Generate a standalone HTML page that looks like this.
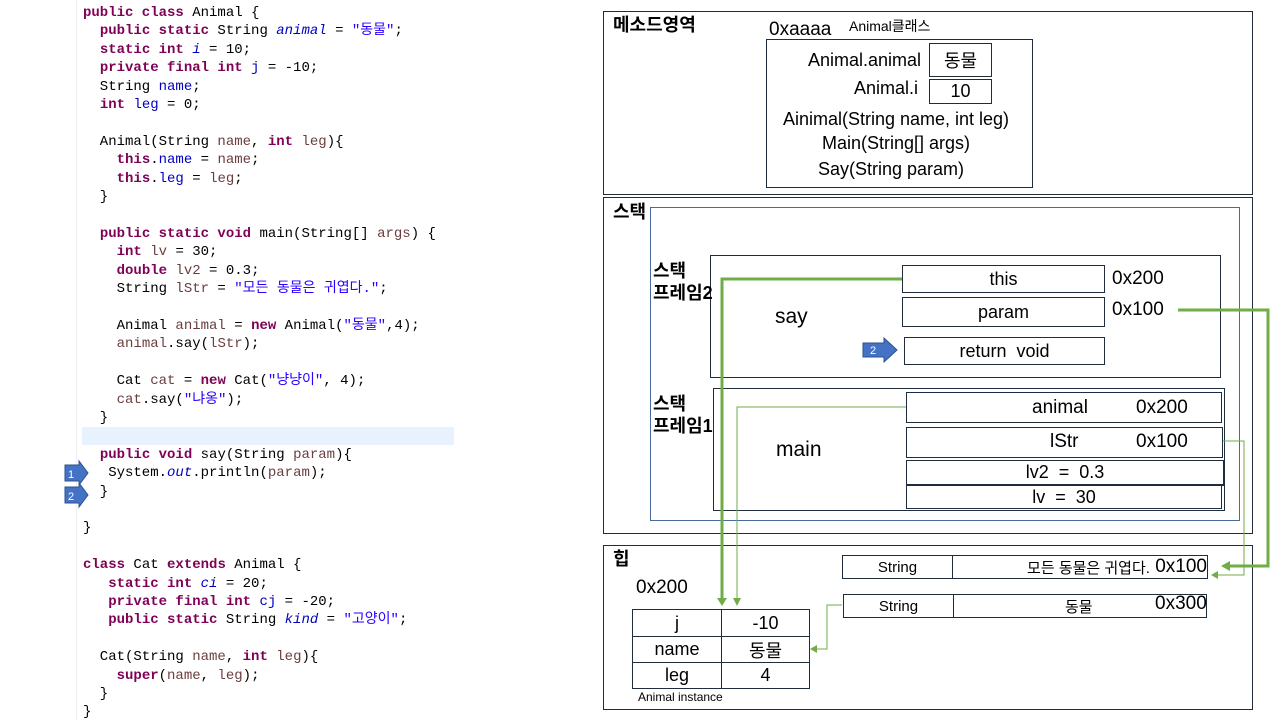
<!DOCTYPE html>
<html><head><meta charset="utf-8"><style>
body{margin:0;width:1280px;height:720px;background:#fff;position:relative;overflow:hidden;font-family:"Liberation Sans","Noto Sans CJK KR",sans-serif;}
.c{position:absolute;font-family:"Liberation Mono","Noto Sans CJK KR",monospace;font-size:14px;white-space:pre;line-height:18.4px;color:#000;}
.k{color:#7f0055;font-weight:bold}.f{color:#0000c0}.s{color:#2a00ff}.l{color:#6a3e3e}.i{font-style:italic}
.a{position:absolute;white-space:nowrap;}
.bx{position:absolute;border:1px solid #1f2d3d;box-sizing:border-box;display:flex;align-items:center;justify-content:center;font-size:18px;}
.t{position:absolute;font-size:18px;font-weight:bold;line-height:22px;}
</style></head><body>
<div style="position:absolute;left:76px;top:0;width:1px;height:720px;background:#eee"></div>
<div style="position:absolute;left:82px;top:427px;width:372px;height:18px;background:#e8f2fe"></div>
<div class="c" style="left:83px;top:4px"><span class="k">public class</span> Animal {
  <span class="k">public static</span> String <span class="f i">animal</span> = <span class="s">"동물"</span>;
  <span class="k">static int</span> <span class="f i">i</span> = 10;
  <span class="k">private final int</span> <span class="f">j</span> = -10;
  String <span class="f">name</span>;
  <span class="k">int</span> <span class="f">leg</span> = 0;

  Animal(String <span class="l">name</span>, <span class="k">int</span> <span class="l">leg</span>){
    <span class="k">this</span>.<span class="f">name</span> = <span class="l">name</span>;
    <span class="k">this</span>.<span class="f">leg</span> = <span class="l">leg</span>;
  }

  <span class="k">public static void</span> main(String[] <span class="l">args</span>) {
    <span class="k">int</span> <span class="l">lv</span> = 30;
    <span class="k">double</span> <span class="l">lv2</span> = 0.3;
    String <span class="l">lStr</span> = <span class="s">"모든 동물은 귀엽다."</span>;

    Animal <span class="l">animal</span> = <span class="k">new</span> Animal(<span class="s">"동물"</span>,4);
    <span class="l">animal</span>.say(<span class="l">lStr</span>);

    Cat <span class="l">cat</span> = <span class="k">new</span> Cat(<span class="s">"냥냥이"</span>, 4);
    <span class="l">cat</span>.say(<span class="s">"냐옹"</span>);
  }

  <span class="k">public void</span> say(String <span class="l">param</span>){
   System.<span class="f i">out</span>.println(<span class="l">param</span>);
  }

}

<span class="k">class</span> Cat <span class="k">extends</span> Animal {
   <span class="k">static int</span> <span class="f i">ci</span> = 20;
   <span class="k">private final int</span> <span class="f">cj</span> = -20;
   <span class="k">public static</span> String <span class="f i">kind</span> = <span class="s">"고양이"</span>;

  Cat(String <span class="l">name</span>, <span class="k">int</span> <span class="l">leg</span>){
    <span class="k">super</span>(<span class="l">name</span>, <span class="l">leg</span>);
  }
}</div>
<svg style="position:absolute;left:0;top:0" width="1280" height="720">
<g fill="#4472c4" stroke="#2f528f" stroke-width="1">
<polygon points="65,465 79,465 79,461 88,473 79,485 79,481 65,481"/>
<polygon points="65,487 79,487 79,483 88,495 79,507 79,503 65,503"/>
<polygon points="863,343 884,343 884,338 897,350 884,362 884,357 863,357"/>
</g>
<g fill="#fff" font-family="Liberation Sans" font-size="11"><text x="68" y="478">1</text><text x="68" y="500">2</text><text x="870" y="354">2</text></g>
<rect x="603.5" y="11.5" width="649" height="183" fill="none" stroke="#1f2d3d"/>
<rect x="603.5" y="197.5" width="649" height="336" fill="none" stroke="#1f2d3d"/>
<rect x="650.5" y="207.5" width="589" height="313" fill="none" stroke="#4a6a9a"/>
<rect x="603.5" y="545.5" width="649" height="164" fill="none" stroke="#1f2d3d"/>
<rect x="766.5" y="39.5" width="266" height="148" fill="none" stroke="#1f2d3d"/>
<rect x="710.5" y="255.5" width="510" height="122" fill="none" stroke="#1f2d3d"/>
<rect x="713.5" y="388.5" width="511" height="122" fill="none" stroke="#1f2d3d"/>
<g fill="none" stroke="#70ad47">
<polyline points="902,279 722,279 722,600" stroke-width="3"/>
<polygon points="717,598 727,598 722,606" fill="#70ad47" stroke="none"/>
<polyline points="906,407 737,407 737,600" stroke-width="1"/>
<polygon points="733,598 741,598 737,606" fill="#70ad47" stroke="none"/>
<polyline points="1178,310 1268,310 1268,566 1228,566" stroke-width="3"/>
<polygon points="1230,561 1230,571 1221,566" fill="#70ad47" stroke="none"/>
<polyline points="1222,441 1244,441 1244,575 1216,575" stroke-width="1"/>
<polygon points="1218,571 1218,579 1211,575" fill="#70ad47" stroke="none"/>
<polyline points="842,605 827,605 827,649 815,649" stroke-width="1"/>
<polygon points="817,645 817,653 810,649" fill="#70ad47" stroke="none"/>
</g>
</svg>
<div class="t" style="left:613px;top:14px">메소드영역</div>
<div class="a" style="left:769px;top:19px;font-size:19px">0xaaaa</div>
<div class="a" style="left:849px;top:16px;font-size:14px">Animal클래스</div>
<div class="a" style="left:780px;top:50px;width:141px;text-align:right;font-size:18px">Animal.animal</div>
<div class="bx" style="left:929px;top:43px;width:63px;height:34px">동물</div>
<div class="a" style="left:780px;top:78px;width:138px;text-align:right;font-size:18px">Animal.i</div>
<div class="bx" style="left:929px;top:79px;width:63px;height:25px">10</div>
<div class="a" style="left:766px;top:109px;width:260px;text-align:center;font-size:18px">Ainimal(String name, int leg)</div>
<div class="a" style="left:766px;top:133px;width:260px;text-align:center;font-size:18px">Main(String[] args)</div>
<div class="a" style="left:766px;top:159px;width:250px;text-align:center;font-size:18px">Say(String param)</div>
<div class="t" style="left:613px;top:201px">스택</div>
<div class="t" style="left:653px;top:260px">스택<br>프레임2</div>
<div class="t" style="left:653px;top:393px">스택<br>프레임1</div>
<div class="a" style="left:775px;top:305px;font-size:21px">say</div>
<div class="a" style="left:776px;top:438px;font-size:21px">main</div>
<div class="bx" style="left:902px;top:265px;width:203px;height:28px">this</div>
<div class="bx" style="left:902px;top:297px;width:203px;height:30px">param</div>
<div class="bx" style="left:904px;top:337px;width:201px;height:28px">return&nbsp; void</div>
<div class="a" style="left:1112px;top:268px;font-size:19px">0x200</div>
<div class="a" style="left:1112px;top:299px;font-size:19px">0x100</div>
<div class="bx" style="left:906px;top:392px;width:316px;height:31px"></div>
<div class="a" style="left:1032px;top:397px;font-size:19px">animal</div>
<div class="a" style="left:1136px;top:397px;font-size:19px">0x200</div>
<div class="bx" style="left:906px;top:427px;width:317px;height:31px"></div>
<div class="a" style="left:1050px;top:431px;font-size:19px">lStr</div>
<div class="a" style="left:1136px;top:431px;font-size:19px">0x100</div>
<div class="bx" style="left:906px;top:460px;width:318px;height:26px;border-bottom:2px solid #1f2d3d">lv2 &nbsp;= &nbsp;0.3</div>
<div class="bx" style="left:906px;top:485px;width:316px;height:24px">lv &nbsp;= &nbsp;30</div>
<div class="t" style="left:613px;top:548px">힙</div>
<div class="a" style="left:636px;top:577px;font-size:19px">0x200</div>
<div class="bx" style="left:632px;top:609px;width:90px;height:28px">j</div>
<div class="bx" style="left:721px;top:609px;width:89px;height:28px">-10</div>
<div class="bx" style="left:632px;top:636px;width:90px;height:27px">name</div>
<div class="bx" style="left:721px;top:636px;width:89px;height:27px">동물</div>
<div class="bx" style="left:632px;top:662px;width:90px;height:27px">leg</div>
<div class="bx" style="left:721px;top:662px;width:89px;height:27px">4</div>
<div class="a" style="left:638px;top:690px;font-size:12px">Animal instance</div>
<div class="bx" style="left:842px;top:555px;width:111px;height:24px;font-size:15px">String</div>
<div class="bx" style="left:952px;top:555px;width:256px;height:24px;justify-content:flex-end;font-size:15px"><span>모든 동물은 귀엽다.</span><span style="font-size:19px">&nbsp;0x100</span></div>
<div class="bx" style="left:843px;top:594px;width:111px;height:24px;font-size:15px">String</div>
<div class="bx" style="left:953px;top:594px;width:254px;height:24px;font-size:15px"></div>
<div class="a" style="left:1065px;top:596px;font-size:15px">동물</div>
<div class="a" style="left:1155px;top:593px;font-size:19px">0x300</div>
</body></html>
